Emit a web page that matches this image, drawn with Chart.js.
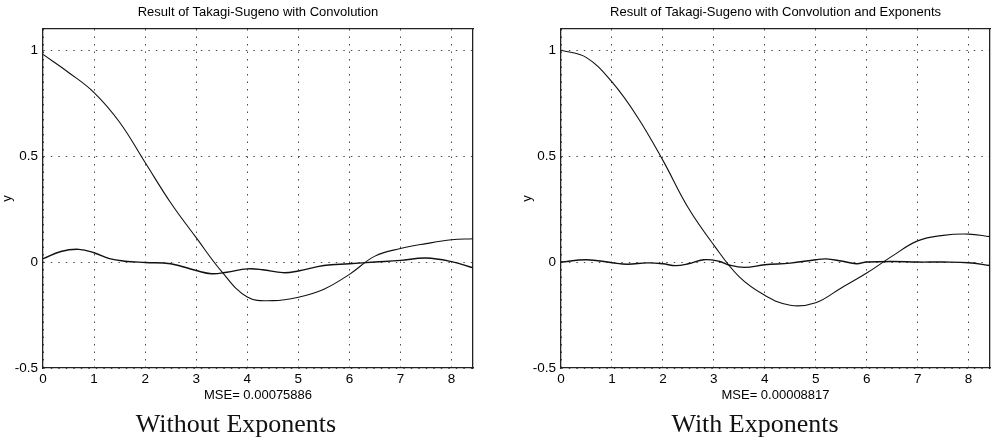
<!DOCTYPE html>
<html>
<head>
<meta charset="utf-8">
<script src="https://cdn.jsdelivr.net/npm/chart.js@4.4.1/dist/chart.umd.min.js"></script>
<style>
  html, body { margin: 0; padding: 0; background: #fff; overflow: hidden; }
  #wrap { position: relative; width: 996px; height: 441px; }
  canvas { position: absolute; top: 0; }
  .cap {
    position: absolute; top: 411px; transform: translateX(-50%);
    font-family: "Liberation Serif", "Times New Roman", serif;
    font-size: 26px; line-height: 26px; color: #111; white-space: nowrap;
  }
</style>
</head>
<body>
<div id="wrap">
  <canvas id="chartA" width="498" height="441" style="left:0"></canvas>
  <canvas id="chartB" width="498" height="441" style="left:498px"></canvas>
  <div class="cap" style="left:236px">Without Exponents</div>
  <div class="cap" style="left:755px">With Exponents</div>
</div>
<script>
// axis ticks (shared by both plots)
const xTicks = [0, 1, 2, 3, 4, 5, 6, 7, 8];
const yTicks = [-0.5, 0, 0.5, 1];
const xMax = 8.42;

// sample positions of the main curves (both plots)
const xMain = [0, 0.5, 1, 1.5, 2, 2.5, 3, 3.5, 4, 4.5, 5, 5.5, 6, 6.5, 7, 7.5, 8, 8.42];

// left plot: without exponents
const yMainA = [0.98, 0.895, 0.80, 0.66, 0.47, 0.28, 0.115, -0.045, -0.165, -0.182, -0.166, -0.128, -0.058, 0.028, 0.064, 0.087, 0.105, 0.11];
const xErrA = [0, 0.35, 0.7, 1, 1.3, 1.6, 2, 2.5, 3, 3.3, 3.6, 4, 4.3, 4.7, 5, 5.5, 6, 6.5, 7, 7.5, 8, 8.42];
const yErrA = [0.016, 0.05, 0.06, 0.044, 0.016, 0.004, -0.002, -0.008, -0.04, -0.055, -0.048, -0.032, -0.036, -0.05, -0.042, -0.016, -0.008, 0, 0.008, 0.019, 0.002, -0.027];

// right plot: with exponents
const yMainB = [1.0, 0.965, 0.85, 0.685, 0.48, 0.255, 0.08, -0.07, -0.157, -0.204, -0.192, -0.122, -0.052, 0.028, 0.1, 0.126, 0.132, 0.12];
const xErrB = [0, 0.5, 1, 1.3, 1.7, 2, 2.25, 2.5, 2.8, 3.1, 3.3, 3.6, 4, 4.5, 5, 5.2, 5.5, 5.8, 6, 6.5, 7, 7.5, 8, 8.42];
const yErrB = [0, 0.011, -0.003, -0.01, -0.004, -0.008, -0.017, -0.008, 0.011, 0.004, -0.014, -0.025, -0.013, -0.005, 0.011, 0.015, 0.005, -0.008, 0, 0.003, 0, 0, -0.003, -0.016];

const FONT = '"Liberation Sans", Arial, sans-serif';

function pts(xs, ys) {
  return xs.map((x, i) => ({ x: x, y: ys[i] }));
}

function lineSet(xs, ys, w) {
  return {
    data: pts(xs, ys),
    borderColor: '#111',
    borderWidth: w,
    pointRadius: 0,
    fill: false,
    tension: 0.4
  };
}

function makePlot(id, cfg) {
  const canvas = document.getElementById(id);
  const ctx = canvas.getContext('2d');
  const boxLine = { display: true, color: '#222', width: 1.3 };
  return new Chart(ctx, {
    type: 'line',
    data: {
      datasets: [
        lineSet(xMain, cfg.yMain, 1.1),
        lineSet(cfg.xErr, cfg.yErr, 1.4)
      ]
    },
    options: {
      responsive: false,
      animation: false,
      layout: { padding: { left: 0, right: cfg.padRight, top: 0, bottom: 0 } },
      plugins: { legend: { display: false }, tooltip: { enabled: false } },
      scales: {
        x: {
          type: 'linear', position: 'bottom', min: 0, max: xMax,
          afterBuildTicks: s => { s.ticks = xTicks.map(v => ({ value: v })); },
          afterFit: s => { s.height = 73; },
          ticks: { color: '#000', padding: 3, maxRotation: 0, autoSkip: false, font: { family: FONT, size: 13.5 }, callback: v => String(v) },
          grid: { color: 'rgba(0,0,0,0.7)', lineWidth: 1, drawTicks: false },
          border: { display: true, color: '#222', width: 1.3, dash: [1.5, 6] },
          title: { display: true, text: cfg.mse, color: '#000', font: { family: FONT, size: 13 }, padding: { top: 0, bottom: 38 } }
        },
        xTop: {
          type: 'linear', position: 'top', min: 0, max: xMax,
          afterFit: s => { s.height = 29; },
          ticks: { display: false },
          grid: { display: false, drawTicks: false },
          border: boxLine,
          title: { display: true, text: cfg.title, color: '#000', font: { family: FONT, size: 13 }, padding: { top: 5, bottom: 0 } }
        },
        y: {
          type: 'linear', position: 'left', min: -0.5, max: 1.1,
          afterBuildTicks: s => { s.ticks = yTicks.map(v => ({ value: v })); },
          afterFit: s => { s.width = cfg.yWidth; },
          ticks: { color: '#000', padding: 5, font: { family: FONT, size: 13.5 }, callback: v => String(v) },
          grid: { color: 'rgba(0,0,0,0.7)', lineWidth: 1, drawTicks: false },
          border: { display: true, color: '#222', width: 1.3, dash: [1.5, 6] },
          title: { display: true, text: 'y', color: '#000', font: { family: FONT, size: 13 }, padding: { top: cfg.yTitlePad, bottom: 0 } }
        },
        yRight: {
          type: 'linear', position: 'right', min: -0.5, max: 1.1,
          ticks: { display: false },
          grid: { display: false, drawTicks: false },
          border: boxLine
        }
      }
    }
  });
}

document.addEventListener('DOMContentLoaded', () => {
  makePlot('chartA', {
    title: 'Result of Takagi-Sugeno with Convolution',
    mse: 'MSE= 0.00075886',
    yMain: yMainA, xErr: xErrA, yErr: yErrA,
    yWidth: 43, yTitlePad: 0, padRight: 25
  });
  makePlot('chartB', {
    title: 'Result of Takagi-Sugeno with Convolution and Exponents',
    mse: 'MSE= 0.00008817',
    yMain: yMainB, xErr: xErrB, yErr: yErrB,
    yWidth: 63, yTitlePad: 22, padRight: 6
  });
});
</script>
</body>
</html>
